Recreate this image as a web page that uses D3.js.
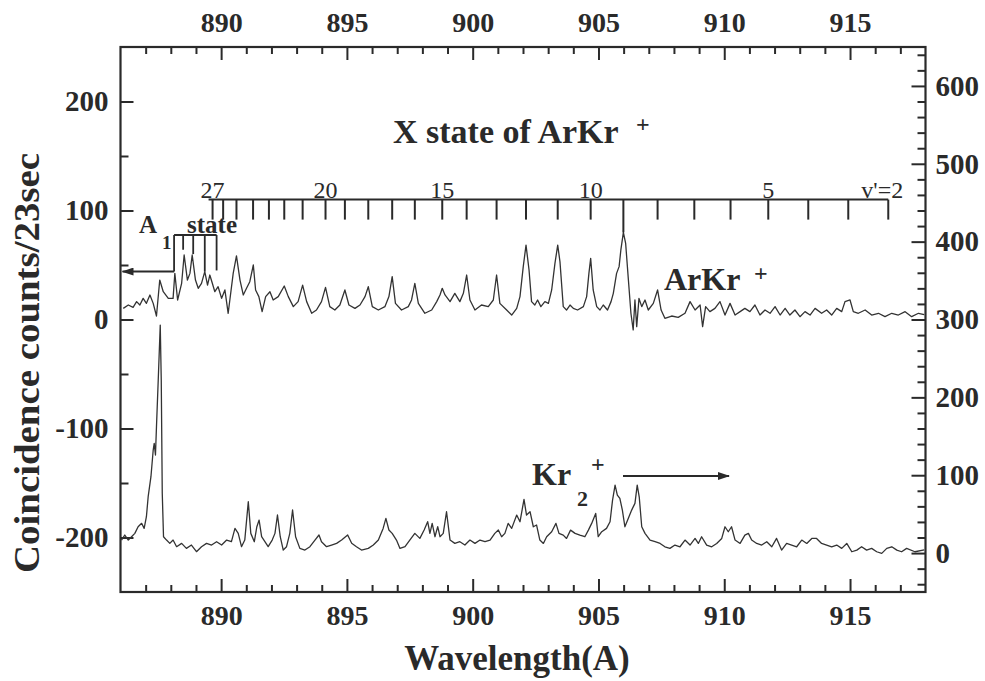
<!DOCTYPE html>
<html><head><meta charset="utf-8">
<script src="https://cdn.jsdelivr.net/npm/d3@7"></script>
<style>body{margin:0;background:#fff}svg{display:block}</style>
</head><body><svg id="c" width="985" height="681"></svg>
<script>
// ---- data (wavelength in Å, counts) ----
const arkrSpectrum = [[886.11,10.2],[886.31,13.3],[886.50,11.2],[886.64,16.4],[886.77,13.3],[886.90,19.4],[887.03,14.8],[887.17,22.5],[887.30,14.8],[887.43,3.2],[887.56,36.2],[887.70,25.5],[887.90,19.4],[888.09,19.4],[888.16,42.3],[888.27,17.9],[888.43,33.2],[888.53,59.2],[888.66,36.2],[888.76,42.3],[888.85,59.2],[888.98,36.2],[889.09,28.6],[889.22,33.2],[889.35,43.9],[889.46,31.6],[889.55,40.8],[889.65,33.2],[889.75,25.5],[889.88,30.1],[890.02,19.4],[890.15,27.1],[890.28,5.7],[890.48,42.3],[890.61,58.3],[890.75,36.2],[890.88,22.5],[891.01,28.6],[891.14,34.7],[891.28,50.0],[891.37,27.1],[891.50,21.0],[891.63,7.2],[891.77,21.0],[891.94,25.5],[892.07,17.9],[892.27,21.0],[892.51,30.7],[892.67,21.0],[892.87,11.8],[893.06,16.4],[893.24,31.6],[893.40,16.4],[893.60,5.7],[893.79,8.7],[893.99,16.4],[894.15,29.5],[894.32,11.8],[894.52,8.7],[894.72,13.3],[894.92,27.1],[895.08,13.3],[895.32,10.2],[895.52,13.3],[895.72,21.0],[895.85,30.1],[896.01,11.8],[896.25,8.7],[896.51,11.8],[896.67,21.0],[896.80,39.3],[896.93,14.8],[897.17,8.7],[897.44,11.8],[897.57,17.9],[897.70,33.2],[897.84,14.8],[898.10,5.7],[898.37,8.7],[898.57,16.4],[898.70,22.5],[898.79,28.6],[898.90,22.5],[899.10,16.4],[899.29,24.0],[899.49,16.4],[899.63,24.0],[899.76,40.8],[899.89,17.9],[900.09,8.7],[900.35,13.3],[900.62,11.8],[900.82,17.9],[900.95,40.8],[901.08,14.8],[901.35,8.7],[901.55,4.1],[901.75,10.2],[901.88,21.0],[902.01,48.5],[902.12,68.3],[902.24,45.4],[902.34,16.4],[902.47,13.3],[902.58,17.9],[902.71,11.8],[902.87,16.4],[903.01,14.8],[903.14,27.1],[903.27,51.5],[903.38,68.3],[903.47,53.0],[903.60,11.8],[903.73,8.7],[903.87,13.3],[904.00,10.2],[904.17,8.7],[904.40,11.8],[904.53,21.0],[904.62,42.3],[904.69,56.1],[904.79,27.1],[904.93,11.8],[905.06,8.7],[905.19,13.3],[905.36,8.7],[905.50,16.4],[905.59,24.0],[905.72,42.3],[905.82,48.5],[905.89,63.8],[905.99,80.0],[906.08,69.9],[906.19,36.2],[906.29,5.7],[906.38,-9.6],[906.45,17.9],[906.52,-6.6],[906.61,19.4],[906.72,11.8],[906.85,17.9],[906.98,8.7],[907.18,14.8],[907.35,27.1],[907.49,8.7],[907.64,1.1],[907.91,3.2],[908.17,2.0],[908.44,5.7],[908.64,16.4],[908.84,8.7],[909.04,13.3],[909.14,-6.6],[909.26,11.8],[909.43,7.2],[909.63,10.2],[909.83,16.4],[910.03,4.1],[910.23,14.8],[910.43,4.1],[910.63,7.2],[910.82,10.2],[911.02,7.2],[911.22,13.3],[911.42,4.1],[911.62,8.7],[911.82,5.7],[912.02,11.8],[912.22,4.1],[912.42,10.2],[912.61,4.1],[912.81,8.7],[913.01,2.6],[913.21,7.2],[913.41,4.1],[913.61,10.2],[913.87,5.7],[914.07,8.7],[914.27,4.1],[914.47,10.2],[914.67,7.2],[914.80,16.4],[915.00,17.9],[915.13,7.2],[915.33,5.7],[915.60,8.7],[915.86,4.1],[916.13,5.7],[916.39,2.6],[916.66,5.7],[916.92,4.1],[917.19,7.2],[917.45,2.6],[917.72,5.7],[917.95,4.5]];

const kr2Spectrum = [[886.04,16.7],[886.17,23.2],[886.31,16.7],[886.44,21.0],[886.57,25.3],[886.70,33.9],[886.84,38.2],[886.94,31.7],[887.03,46.7],[887.10,72.4],[887.21,98.1],[887.30,132.3],[887.34,140.9],[887.39,125.9],[887.43,162.3],[887.50,222.2],[887.58,292.9],[887.62,222.2],[887.66,76.7],[887.71,21.0],[887.83,16.7],[887.96,12.5],[888.09,16.7],[888.23,8.2],[888.43,12.5],[888.62,6.0],[888.82,10.3],[889.02,1.8],[889.22,8.2],[889.42,12.5],[889.62,10.3],[889.82,14.6],[890.02,10.3],[890.22,16.7],[890.41,14.6],[890.55,31.7],[890.68,25.3],[890.81,8.2],[890.94,16.7],[891.08,66.0],[891.18,25.3],[891.32,14.6],[891.42,33.9],[891.51,42.4],[891.61,21.0],[891.74,14.6],[891.87,8.2],[892.03,16.7],[892.14,25.3],[892.24,48.9],[892.35,21.0],[892.47,3.9],[892.60,8.2],[892.73,25.3],[892.84,55.3],[892.96,21.0],[893.13,6.0],[893.33,3.9],[893.53,8.2],[893.73,16.7],[893.89,23.2],[893.99,14.6],[894.19,8.2],[894.39,10.3],[894.59,12.5],[894.79,16.7],[895.03,23.2],[895.19,12.5],[895.38,8.2],[895.58,3.9],[895.85,6.0],[896.05,10.3],[896.25,16.7],[896.44,31.7],[896.55,44.6],[896.67,29.6],[896.80,25.3],[896.97,16.7],[897.11,6.0],[897.31,8.2],[897.50,16.7],[897.70,25.3],[897.90,18.9],[898.07,29.6],[898.21,40.3],[898.30,25.3],[898.39,38.2],[898.50,21.0],[898.61,33.9],[898.70,21.0],[898.83,25.3],[898.96,53.1],[899.10,16.7],[899.29,12.5],[899.49,14.6],[899.69,10.3],[899.89,16.7],[900.09,12.5],[900.29,16.7],[900.49,14.6],[900.69,16.7],[900.88,25.3],[901.02,29.6],[901.15,21.0],[901.28,25.3],[901.41,38.1],[901.55,31.7],[901.75,48.8],[901.88,40.2],[902.04,68.9],[902.14,48.8],[902.28,53.1],[902.41,33.8],[902.54,36.0],[902.67,16.7],[902.81,12.4],[902.94,21.0],[903.14,27.4],[903.31,38.1],[903.43,25.3],[903.60,23.1],[903.73,18.8],[903.89,29.5],[904.07,25.3],[904.26,23.1],[904.46,21.0],[904.60,29.5],[904.73,38.1],[904.89,50.9],[904.99,21.0],[905.13,27.4],[905.32,31.7],[905.46,40.2],[905.56,68.1],[905.66,87.3],[905.75,74.5],[905.85,70.2],[905.95,55.2],[906.05,33.8],[906.16,42.4],[906.32,55.2],[906.45,63.8],[906.54,87.3],[906.62,72.3],[906.72,33.8],[906.85,25.3],[907.05,16.7],[907.25,14.6],[907.45,12.4],[907.64,8.1],[907.84,6.0],[908.04,10.3],[908.24,8.1],[908.44,16.7],[908.64,10.3],[908.84,18.8],[908.97,12.4],[909.10,21.0],[909.30,10.3],[909.50,8.1],[909.70,12.4],[909.90,18.8],[910.03,33.8],[910.16,27.4],[910.29,33.8],[910.43,16.7],[910.63,12.4],[910.82,23.1],[910.96,25.3],[911.09,16.7],[911.29,12.4],[911.49,10.3],[911.69,14.6],[911.89,8.1],[912.08,18.8],[912.28,3.8],[912.48,12.4],[912.68,10.3],[912.88,8.1],[913.08,16.7],[913.28,12.4],[913.48,18.8],[913.67,18.8],[913.87,12.4],[914.07,10.3],[914.27,8.1],[914.47,10.3],[914.67,6.0],[914.87,12.4],[915.07,1.7],[915.27,3.8],[915.46,8.1],[915.66,3.8],[915.86,6.0],[916.06,1.7],[916.26,-0.4],[916.46,6.0],[916.66,8.1],[916.86,3.8],[917.05,1.7],[917.25,6.0],[917.58,1.7],[917.95,4.0]];

// X-state vibrational progression of ArKr+ (v', wavelength)
const xStateLevels = [27,26,25,24,23,22,21,20,19,18,17,16,15,14,13,12,11,10,9,8,7,6,5,4,3,2];
const xStateWavelengths = [889.66,890.08,890.61,891.27,891.90,892.51,893.24,894.15,894.92,895.85,896.80,897.70,898.79,899.76,900.95,902.12,903.38,904.69,905.99,907.35,908.81,910.25,911.75,913.34,914.93,916.52];
const xStateLabels = {27:"27",20:"20",15:"15",10:"10",5:"5",2:"v'=2"};
const xStateCombLevel = 110;       // counts (left axis)
const xStateLongTickEnd = {9:80}; // v'=9 marker drawn down to the peak
// A1 state markers
const a1Wavelengths = [888.13,888.49,888.89,889.35,889.82];
const a1TickEnds = [44,64,60,44,45];
const a1CombLevel = 77.5;
const a1ArrowTo = 886.08;

const xTickValues = [890,895,900,905,910,915];
const yLeftTickValues = [-200,-100,0,100,200];
const yRightTickValues = [0,100,200,300,400,500,600];

// ---- layout ----
const L = 120.5, R = 925.5, T = 47, B = 592;
const FONT = "'Liberation Serif','Times New Roman',Times,serif";
const INK = "#2a2a2a";
const svg = d3.select("#c");
const x = d3.scaleLinear().domain([886, 918]).range([L, R]);
const yL = d3.scaleLinear().domain([-250, 250]).range([B, T]);
const yR = d3.scaleLinear().domain([-50, 650]).range([B, T]);
const fmt = d => String(d);

function styleAxis(g, size) {
  g.select(".domain").remove();
  g.selectAll("line").attr("stroke", INK).attr("stroke-width", 2);
  g.selectAll("text").attr("font-family", FONT).attr("font-weight", "bold")
    .attr("font-size", size).attr("fill", INK);
  g.attr("font-family", null).attr("font-size", null);
}
const minorX = d3.range(887, 918, 1).filter(v => v % 5 !== 0);
// bottom
svg.append("g").attr("transform", `translate(0,${B})`)
  .call(d3.axisBottom(x).tickValues(minorX).tickSize(-7).tickFormat(""))
  .call(g => styleAxis(g, 28));
svg.append("g").attr("transform", `translate(0,${B})`)
  .call(d3.axisBottom(x).tickValues(xTickValues).tickSize(-13).tickPadding(13).tickFormat(fmt))
  .call(g => styleAxis(g, 28));
// top
svg.append("g").attr("transform", `translate(0,${T})`)
  .call(d3.axisTop(x).tickValues(minorX).tickSize(-7).tickFormat(""))
  .call(g => styleAxis(g, 28));
svg.append("g").attr("transform", `translate(0,${T})`)
  .call(d3.axisTop(x).tickValues(xTickValues).tickSize(-13).tickPadding(15).tickFormat(fmt))
  .call(g => styleAxis(g, 28));
// left
svg.append("g").attr("transform", `translate(${L},0)`)
  .call(d3.axisLeft(yL).tickValues([-150,-50,50,150]).tickSize(-8).tickFormat(""))
  .call(g => styleAxis(g, 29));
svg.append("g").attr("transform", `translate(${L},0)`)
  .call(d3.axisLeft(yL).tickValues(yLeftTickValues).tickSize(-13).tickPadding(12).tickFormat(fmt))
  .call(g => styleAxis(g, 29));
// right
svg.append("g").attr("transform", `translate(${R},0)`)
  .call(d3.axisRight(yR).tickValues(d3.range(-40, 650, 20).filter(v => v % 100 !== 0)).tickSize(-8).tickFormat(""))
  .call(g => styleAxis(g, 29));
svg.append("g").attr("transform", `translate(${R},0)`)
  .call(d3.axisRight(yR).tickValues(yRightTickValues).tickSize(-14).tickPadding(10).tickFormat(fmt))
  .call(g => styleAxis(g, 29));

// frame
svg.append("rect").attr("x", L).attr("y", T).attr("width", R - L).attr("height", B - T)
  .attr("fill", "none").attr("stroke", INK).attr("stroke-width", 2.2);

// spectra
const lineL = d3.line().x(d => x(d[0])).y(d => yL(d[1]));
const lineR = d3.line().x(d => x(d[0])).y(d => yR(d[1]));
svg.append("path").datum(arkrSpectrum).attr("d", lineL)
  .attr("fill", "none").attr("stroke", "#333").attr("stroke-width", 1.3).attr("stroke-linejoin", "round");
svg.append("path").datum(kr2Spectrum).attr("d", lineR)
  .attr("fill", "none").attr("stroke", "#333").attr("stroke-width", 1.3).attr("stroke-linejoin", "round");

// X-state comb
const combY = yL(xStateCombLevel);
const xs = xStateWavelengths;
svg.append("line").attr("x1", x(xs[0]) - 4).attr("x2", x(xs[xs.length - 1]))
  .attr("y1", combY).attr("y2", combY).attr("stroke", INK).attr("stroke-width", 2);
xStateLevels.forEach((v, i) => {
  const xx = x(xs[i]);
  const y2 = xStateLongTickEnd[v] !== undefined ? yL(xStateLongTickEnd[v]) : combY + 20;
  svg.append("line").attr("x1", xx).attr("x2", xx).attr("y1", combY).attr("y2", y2)
    .attr("stroke", INK).attr("stroke-width", 2);
  if (xStateLabels[v]) {
    svg.append("text").attr("x", v === 2 ? xx - 6 : xx).attr("y", combY - 2)
      .attr("text-anchor", "middle").attr("font-family", FONT).attr("font-size", 24)
      .attr("fill", INK).text(xStateLabels[v]);
  }
});

// A1 comb
const a1Y = yL(a1CombLevel);
svg.append("line").attr("x1", x(a1Wavelengths[0])).attr("x2", x(a1Wavelengths[a1Wavelengths.length - 1]))
  .attr("y1", a1Y).attr("y2", a1Y).attr("stroke", INK).attr("stroke-width", 2);
a1Wavelengths.forEach((w, i) => {
  svg.append("line").attr("x1", x(w)).attr("x2", x(w)).attr("y1", a1Y).attr("y2", yL(a1TickEnds[i]))
    .attr("stroke", INK).attr("stroke-width", 1.8);
});

// arrow markers
const defs = svg.append("defs");
defs.append("marker").attr("id", "ah").attr("viewBox", "0 0 12 8").attr("refX", 11).attr("refY", 4)
  .attr("markerWidth", 12).attr("markerHeight", 8).attr("markerUnits", "userSpaceOnUse").attr("orient", "auto")
  .append("path").attr("d", "M0,0 L12,4 L0,8 Z").attr("fill", INK);
svg.append("line").attr("x1", x(a1Wavelengths[0])).attr("x2", x(a1ArrowTo))
  .attr("y1", yL(a1TickEnds[0])).attr("y2", yL(a1TickEnds[0]))
  .attr("stroke", INK).attr("stroke-width", 2).attr("marker-end", "url(#ah)");
svg.append("line").attr("x1", 623).attr("x2", 729).attr("y1", 476).attr("y2", 476)
  .attr("stroke", INK).attr("stroke-width", 2).attr("marker-end", "url(#ah)");

// text labels
function txt(s, xx, yy, size, opts = {}) {
  return svg.append("text").attr("x", xx).attr("y", yy).attr("font-family", FONT)
    .attr("font-weight", opts.normal ? "normal" : "bold").attr("font-size", size)
    .attr("fill", INK).attr("text-anchor", opts.anchor || "start").text(s);
}
txt("X state of ArKr", 393, 143, 34);
txt("+", 636, 132, 24);
txt("A", 139, 233, 25);
txt("1", 162, 249, 19);
txt("state", 187, 233, 25);
txt("ArKr", 664, 290, 32);
txt("+", 754, 281, 24);
txt("Kr", 532, 485, 32);
txt("2", 577, 506, 22);
txt("+", 591, 472, 24);
txt("Wavelength(A)", 517, 670, 35, {anchor: "middle"});
svg.append("text").attr("transform", "translate(39,363) rotate(-90)")
  .attr("text-anchor", "middle").attr("font-family", FONT).attr("font-weight", "bold")
  .attr("font-size", 36).attr("textLength", 420).attr("lengthAdjust", "spacingAndGlyphs")
  .attr("fill", INK).text("Coincidence counts/23sec");
</script>
</body></html>
